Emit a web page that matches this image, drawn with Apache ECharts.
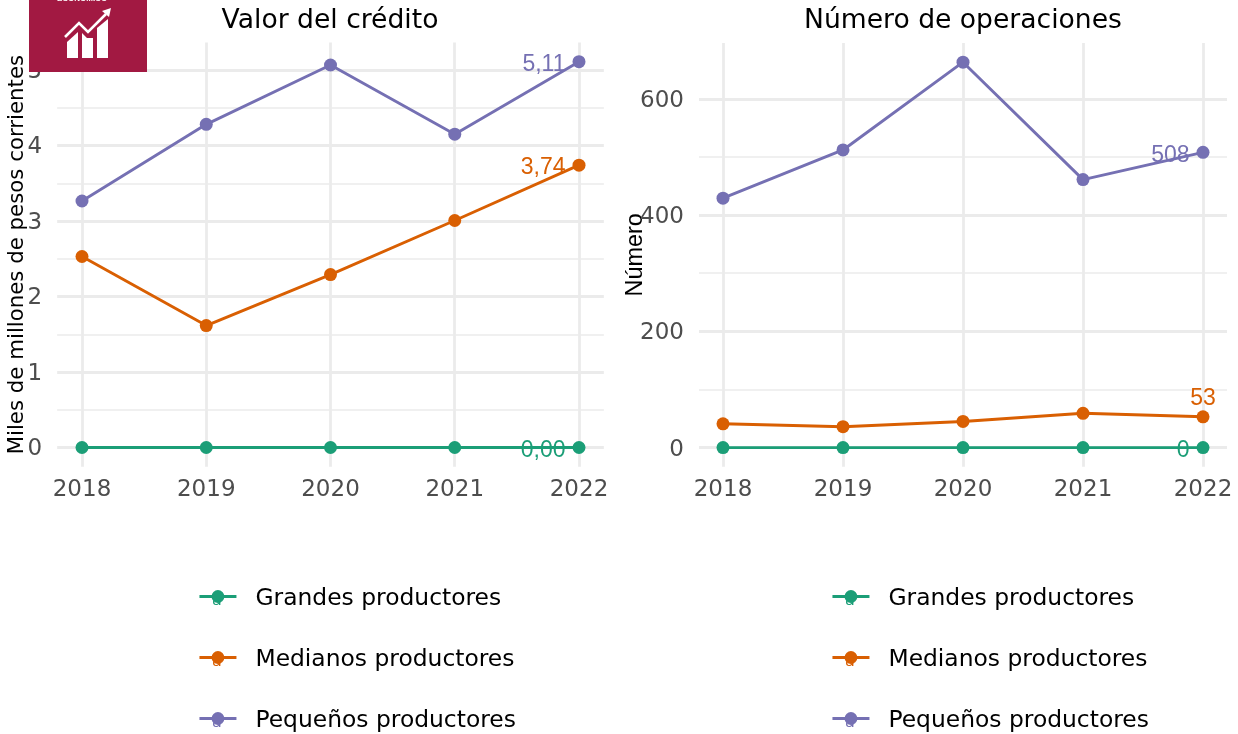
<!DOCTYPE html>
<html><head><meta charset="utf-8">
<style>html,body{margin:0;padding:0;background:#fff}#c{width:1238px;height:734px}</style>
<script src="https://cdn.jsdelivr.net/npm/echarts@6/dist/echarts.min.js"></script>
</head><body><div id="c"></div>
<script>
const years=[2018,2019,2020,2021,2022];
const seriesNames=['Grandes productores','Medianos productores','Pequeños productores'];
const colors=['#1B9E77','#D95F02','#7570B3'];
const creditoGrandes=[0,0,0,0,0];
const creditoMedianos=[2.53,1.615,2.29,3.007,3.74];
const creditoPequenos=[3.265,4.28,5.066,4.15,5.11];
const operGrandes=[0,0,0,0,0];
const operMedianos=[41,36,45,59,53];
const operPequenos=[429,512,663,461,508];
const creditoLabels=['0,00','3,74','5,11'];
const operLabels=['0','53','508'];
const creditoTicks=[0,1,2,3,4,5];
const creditoMinorTicks=[0.5,1.5,2.5,3.5,4.5];
const operTicks=[0,200,400,600];
const operMinorTicks=[100,300,500];

const chart=echarts.init(document.getElementById('c'));
const FONT='DejaVu Sans';
function xAxis(g){return {type:'value',gridIndex:g,min:2017.8,max:2022.2,
  axisLine:{show:false},axisTick:{show:false,customValues:years},
  axisLabel:{color:'#4D4D4D',fontFamily:FONT,fontSize:23,margin:12,customValues:years,formatter:v=>String(v),hideOverlap:false},
  splitLine:{show:true,showMinLine:true,showMaxLine:true,lineStyle:{color:'#EBEBEB',width:2.8}}};}
function yAxis(g,min,max,ticks,name,nameFont,nameSize,nameGap){return {type:'value',gridIndex:g,min,max,
  name,nameLocation:'middle',nameGap,nameMoveOverlap:false,nameTextStyle:{color:'#000',fontFamily:nameFont,fontSize:nameSize},
  axisLine:{show:false},axisTick:{show:false,customValues:ticks},
  axisLabel:{margin:15,customValues:ticks,formatter:v=>'{t|'+v+'}',
    rich:{t:{color:'#4D4D4D',fontFamily:FONT,fontSize:23,padding:[4,0,0,0]}}},
  splitLine:{show:true,showMinLine:true,showMaxLine:true,lineStyle:{color:'#EBEBEB',width:2.8}}};}
function yMinor(g,min,max,ticks){return {type:'value',gridIndex:g,min,max,position:'left',
  axisLine:{show:false},axisTick:{show:false,customValues:ticks},axisLabel:{show:false},
  splitLine:{show:true,showMinLine:true,showMaxLine:true,lineStyle:{color:'#EBEBEB',width:1.7}}};}
function line(name,vals,color,xi,yi,lab,pos,dist){
  return {name,type:'line',xAxisIndex:xi,yAxisIndex:yi,symbol:'circle',symbolSize:13,z:5,
    lineStyle:{color,width:2.9},itemStyle:{color},
    data:vals.map((v,i)=>{
      const d={value:[years[i],v]};
      if(i===vals.length-1) d.label={show:true,formatter:lab,position:pos,distance:dist,offset:[0,3],color,fontFamily:'Liberation Sans',fontSize:23};
      return d;}),
    animation:false};
}
function legend(left){return {orient:'vertical',left,top:578,height:170,itemWidth:37,itemHeight:16,itemGap:34,data:seriesNames,selectedMode:false,
  lineStyle:{width:2.9},formatter:n=>'{t|'+n+'}',
  textStyle:{padding:[0,0,0,14],rich:{t:{color:'#000',fontFamily:FONT,fontSize:23.4,lineHeight:23,height:23,padding:[4,0,0,0]}}}};}

const aKeys=[];
[217,850].forEach(x=>[597,658,719].forEach((y,k)=>aKeys.push({type:'text',z:1,x:x,y:y+4,
  style:{text:'a',fill:colors[k],font:'16px "DejaVu Sans"',textAlign:'center',textVerticalAlign:'middle'}})));

chart.setOption({
  animation:false,backgroundColor:'#fff',
  title:[
    {text:'Valor del crédito',left:325,top:3,textAlign:'center',textStyle:{color:'#000',fontFamily:FONT,fontSize:26.6,fontWeight:'normal'}},
    {text:'Número de operaciones',left:958,top:3,textAlign:'center',textStyle:{color:'#000',fontFamily:FONT,fontSize:26.6,fontWeight:'normal'}}
  ],
  grid:[
    {left:57.15,width:546.7,top:42.4,height:424.4},
    {left:699,width:528,top:43,height:423.8}
  ],
  xAxis:[xAxis(0),xAxis(1)],
  yAxis:[
    yAxis(0,-0.2555,5.3655,creditoTicks,'Miles de millones de pesos corrientes',FONT,21.3,29),
    yAxis(1,-33,696,operTicks,'Número','Liberation Sans',23.4,51.5),
    yMinor(0,-0.2555,5.3655,creditoMinorTicks),
    yMinor(1,-33,696,operMinorTicks)
  ],
  legend:[legend(193),legend(826)],
  series:[
    line(seriesNames[0],creditoGrandes,colors[0],0,0,creditoLabels[0],'left',7),
    line(seriesNames[1],creditoMedianos,colors[1],0,0,creditoLabels[1],'left',7),
    line(seriesNames[2],creditoPequenos,colors[2],0,0,creditoLabels[2],'left',7),
    line(seriesNames[0],operGrandes,colors[0],1,1,operLabels[0],'left',7),
    line(seriesNames[1],operMedianos,colors[1],1,1,operLabels[1],'top',3),
    line(seriesNames[2],operPequenos,colors[2],1,1,operLabels[2],'left',7)
  ],
  graphic:[
    {type:'rect',z:100,shape:{x:29,y:0,width:118,height:72},style:{fill:'#A21942'}},
    {type:'text',z:101,x:82,y:-5,style:{text:'ECONÓMICO',fill:'#fff',font:'bold 8px "Liberation Sans"',textAlign:'center'}},
    {type:'polygon',z:101,shape:{points:[[67,42],[78,32],[78,58],[67,58]]},style:{fill:'#fff'}},
    {type:'polygon',z:101,shape:{points:[[82,33],[87,38],[93,38],[93,58],[82,58]]},style:{fill:'#fff'}},
    {type:'polygon',z:101,shape:{points:[[97,28],[108,19],[108,58],[97,58]]},style:{fill:'#fff'}},
    {type:'polyline',z:102,shape:{points:[[65,37],[79,23],[88,32],[106,14]]},style:{stroke:'#fff',lineWidth:2.6,fill:null}},
    {type:'polygon',z:102,shape:{points:[[102,11],[111,8],[109,17]]},style:{fill:'#fff'}},
    ...aKeys
  ]
});
</script></body></html>
